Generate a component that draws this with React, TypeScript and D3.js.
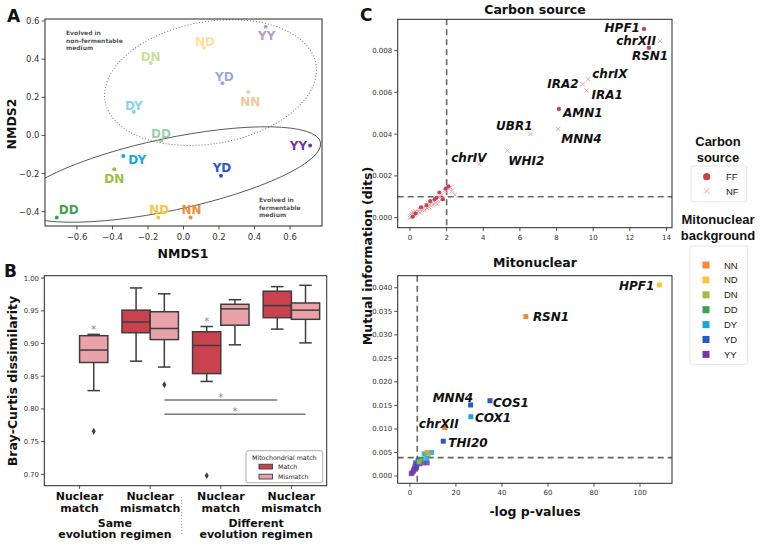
import React from 'react';
import * as d3 from 'd3';

const FONT = "'DejaVu Sans', Verdana, sans-serif";
const LEG_FONT = "'Liberation Sans', Arial, sans-serif";
const INK = '#262626';
const GREY = '#666';

// mitonuclear backgrounds (shared by A and C)
const bgOrder = ['NN', 'ND', 'DN', 'DD', 'DY', 'YD', 'YY'];
const bgColors = ['#f08a3c', '#fbc447', '#9cbf3b', '#3aa34d', '#19a6df', '#2c56c3', '#7637a6'];

// ---- A: NMDS ordination ----
const nmdsLabel = ['DN', 'DY', 'DD', 'ND', 'YY', 'YD', 'NN', 'DY', 'DN', 'DD', 'ND', 'NN', 'YD', 'YY'];
const nmdsX = [-0.185, -0.28, -0.127, 0.115, 0.463, 0.219, 0.365, -0.339, -0.39, -0.714, -0.142, 0.04, 0.211, 0.713];
const nmdsY = [0.38, 0.124, -0.027, 0.46, 0.57, 0.273, 0.228, -0.108, -0.178, -0.43, -0.43, -0.43, -0.212, -0.053];
const nmdsMedium = ['NF', 'NF', 'NF', 'NF', 'NF', 'NF', 'NF', 'FF', 'FF', 'FF', 'FF', 'FF', 'FF', 'FF'];
const nmdsTicksX = [-0.6, -0.4, -0.2, 0.0, 0.2, 0.4, 0.6];
const nmdsTicksY = [-0.4, -0.2, 0.0, 0.2, 0.4, 0.6];
// label placement: anchor, dx, dy
const nmdsLabelPos: [string, number, number][] = [
  ['middle', 0, -2], ['middle', 0, -2], ['middle', 0, -3], ['middle', 1, -2], ['middle', 1, 13],
  ['middle', 2, -2], ['middle', 2, 14], ['start', 5, 8], ['middle', 0, 14], ['start', 2, -3],
  ['middle', 1, -3], ['middle', 1, -3], ['middle', 1, -4], ['end', -3, 4],
];
// group ellipses (centre in data units)
const ellNF = { cx: 0.152, cy: 0.277, rx: 107, ry: 61, angle: -10 };
const ellFF = { cx: -0.082, cy: -0.205, rx: 155, ry: 36, angle: -12 };

// ---- B: Bray-Curtis boxplots ----
const bGroups = ['g0', 'g1', 'g2', 'g3'];
const bTickTop = ['Nuclear', 'Nuclear', 'Nuclear', 'Nuclear'];
const bTickBot = ['match', 'mismatch', 'match', 'mismatch'];
const boxGroup = [0, 1, 1, 2, 2, 3, 3];
const boxHue = ['Mismatch', 'Match', 'Mismatch', 'Match', 'Mismatch', 'Match', 'Mismatch'];
const boxQ1 = [0.871, 0.9165, 0.906, 0.854, 0.928, 0.9395, 0.937];
const boxMed = [0.890, 0.933, 0.923, 0.897, 0.953, 0.958, 0.951];
const boxQ3 = [0.912, 0.951, 0.9486, 0.918, 0.960, 0.980, 0.962];
const boxLo = [0.828, 0.873, 0.864, 0.842, 0.898, 0.922, 0.901];
const boxHi = [0.914, 0.985, 0.976, 0.926, 0.967, 0.987, 0.989];
const outBox = [0, 2, 3];
const outVal = [0.766, 0.837, 0.698];
const starBox = [0, 3];
const starVal = [0.923, 0.936];
const sigFrom = [2, 2];
const sigTo = [5, 6];
const sigVal = [0.8137, 0.792];
const bTicksY = [0.70, 0.75, 0.80, 0.85, 0.90, 0.95, 1.00];

// ---- C: mutual information vs -log p ----
const nfX = [0.0, 0.05, 0.1, 0.1, 0.15, 0.2, 0.25, 0.3, 0.35, 0.45, 0.5, 0.55, 0.6, 0.7, 0.75, 0.8, 0.9, 0.95, 1.0, 1.05, 1.1, 1.2, 1.25, 1.3, 1.4, 1.45, 1.5, 1.6, 1.7, 1.75, 1.8, 1.9, 2.1, 2.2, 2.3, 2.45];
const nfY = [0.0, 0.00005, 0.0002, 0.0001, 0.0001, 0.00025, 0.00015, 0.0003, 0.0002, 0.0003, 0.0004, 0.00025, 0.00045, 0.0004, 0.0005, 0.00035, 0.0006, 0.00045, 0.0007, 0.0005, 0.0006, 0.00075, 0.0006, 0.0008, 0.0007, 0.0009, 0.00065, 0.001, 0.00085, 0.0011, 0.0009, 0.0013, 0.0014, 0.00145, 0.0013, 0.0011];
const ffX = [0.15, 0.3, 0.6, 0.9, 1.1, 1.35, 1.45, 1.6, 1.8, 1.95, 2.1];
const ffY = [0.00005, 0.0002, 0.0005, 0.0006, 0.0008, 0.00088, 0.00095, 0.0012, 0.00088, 0.0014, 0.0015];
const carbonGene = ['HPF1', 'chrXII', 'RSN1', 'chrIX', 'IRA2', 'IRA1', 'AMN1', 'MNN4', 'UBR1', 'WHI2', 'chrIV'];
const carbonP = [12.77, 13.64, 13.04, 9.73, 9.42, 9.64, 8.13, 8.09, 6.58, 5.31, 3.78];
const carbonMI = [0.00904, 0.00846, 0.00814, 0.00663, 0.00639, 0.00608, 0.00521, 0.00425, 0.00401, 0.00321, 0.00257];
const carbonSrc = ['FF', 'NF', 'FF', 'NF', 'NF', 'NF', 'FF', 'NF', 'NF', 'NF', 'NF'];
const carbonLabelPos: [string, number, number][] = [
  ['end', -4, 3], ['end', -4, 4], ['start', -17, 12], ['start', 4, -1], ['end', -4, 4], ['start', 5, 8],
  ['start', 4, 8], ['start', 3, 14], ['end', 2, -4], ['start', 1, 14], ['start', -28, -2],
];
const carbonTicksX = [0, 2, 4, 6, 8, 10, 12, 14];
const carbonTicksY = [0, 0.002, 0.004, 0.006, 0.008];
const carbonCut = [2, 0.001];

const mitoGene = ['HPF1', 'RSN1', 'MNN4', 'COS1', 'COX1', 'chrXII', 'THI20'];
const mitoP = [108.4, 50.4, 26.4, 34.8, 26.5, 15.2, 14.5];
const mitoMI = [0.0406, 0.0339, 0.0151, 0.016, 0.0126, 0.0103, 0.0074];
const mitoBg = ['ND', 'NN', 'YD', 'YD', 'DY', 'NN', 'YD'];
const mitoLabelPos: [string, number, number][] = [
  ['end', -5, 5], ['start', 7, 5], ['start', -38, -3], ['start', 3, 6], ['start', 4, 5], ['start', -26, 0], ['start', 5, 6],
];
const mitoRestX = [1.0, 0.6, 1.7, 2.2, 2.9, 4.3, 5.8, 7.5, 1.5, 2.0, 2.5, 3.6, 3.0, 6.2, 9.4, 7.5, 8.0, 7.3, 5.0, 4.0];
const mitoRestY = [0.0007, 0.0005, 0.0013, 0.0021, 0.0018, 0.0026, 0.0028, 0.0028, 0.001, 0.0016, 0.0028, 0.0034, 0.0024, 0.0047, 0.005, 0.005, 0.0045, 0.0037, 0.0035, 0.003];
const mitoRestBg = ['YY', 'YY', 'YY', 'YY', 'YY', 'YY', 'YY', 'YY', 'YY', 'YY', 'YD', 'YD', 'YD', 'DY', 'DY', 'NN', 'DN', 'DY', 'DD', 'DN'];
const mitoTicksX = [0, 20, 40, 60, 80, 100];
const mitoTicksY = [0, 0.005, 0.01, 0.015, 0.02, 0.025, 0.03, 0.035, 0.04];
const mitoCut = [3.2, 0.0039];

const bgColor = d3.scaleOrdinal<string, string>().domain(bgOrder).range(bgColors);
const minus = (s: string) => s.replace('-', '\u2212');

function AxisLeft({ scale, ticks, x, fmt, size }: any) {
  return (
    <g>
      {ticks.map((t: number) => (
        <g key={t} transform={`translate(${x},${scale(t)})`}>
          <line x2={-3.5} stroke={INK} strokeWidth={0.8} />
          <text x={-5.5} dy="0.35em" textAnchor="end" fontSize={size} fill="#333">{fmt(t)}</text>
        </g>
      ))}
    </g>
  );
}

function AxisBottom({ scale, ticks, y, fmt, size }: any) {
  return (
    <g>
      {ticks.map((t: number) => (
        <g key={t} transform={`translate(${scale(t)},${y})`}>
          <line y2={3.5} stroke={INK} strokeWidth={0.8} />
          <text y={5 + size} textAnchor="middle" fontSize={size} fill="#333">{fmt(t)}</text>
        </g>
      ))}
    </g>
  );
}

function Frame({ x0, x1, y0, y1 }: any) {
  return <rect x={x0} y={y0} width={x1 - x0} height={y1 - y0} fill="none" stroke={INK} strokeWidth={1} />;
}

function PanelA() {
  const x = d3.scaleLinear().domain([-0.78, 0.78]).range([45, 322]);
  const y = d3.scaleLinear().domain([-0.475, 0.6105]).range([226, 19]);
  const fmt = (v: number) => minus(d3.format('.1f')(v));
  const ell = (e: any, dash?: string) => (
    <ellipse cx={0} cy={0} rx={e.rx} ry={e.ry} fill="none" stroke={dash ? '#777' : '#555'} strokeWidth={dash ? 1 : 0.9}
      strokeDasharray={dash} transform={`translate(${x(e.cx)},${y(e.cy)}) rotate(${e.angle})`} />
  );
  return (
    <g>
      <defs>
        <clipPath id="clipA"><rect x={45} y={19} width={277} height={207} /></clipPath>
      </defs>
      <g clipPath="url(#clipA)">
        {ell(ellNF, '1,2')}
        {ell(ellFF)}
      </g>
      {nmdsLabel.map((lab, i) => {
        const [anchor, dx, dy] = nmdsLabelPos[i];
        const faded = nmdsMedium[i] === 'NF';
        const col = bgColor(lab);
        return (
          <g key={i} opacity={faded ? 0.5 : 1}>
            <circle cx={x(nmdsX[i])} cy={y(nmdsY[i])} r={2} fill={col} />
            <text x={x(nmdsX[i]) + dx} y={y(nmdsY[i]) + dy} textAnchor={anchor} fontSize={12} fontWeight="bold" fill={col}>{lab}</text>
          </g>
        );
      })}
      <g fontSize={6} fontWeight="bold" fill="#555">
        <text x={66} y={35}>Evolved in</text>
        <text x={66} y={42.5}>non-fermentable</text>
        <text x={66} y={50}>medium</text>
        <text x={259} y={202}>Evolved in</text>
        <text x={259} y={209.5}>fermentable</text>
        <text x={259} y={217}>medium</text>
      </g>
      <Frame x0={45} x1={322} y0={19} y1={226} />
      <AxisLeft scale={y} ticks={nmdsTicksY} x={45} fmt={fmt} size={8.5} />
      <AxisBottom scale={x} ticks={nmdsTicksX} y={226} fmt={fmt} size={8.5} />
      <text x={183} y={258} textAnchor="middle" fontSize={12.5} fontWeight="bold" fill="#111">NMDS1</text>
      <text transform="translate(16,124) rotate(-90)" textAnchor="middle" fontSize={12.5} fontWeight="bold" fill="#111">NMDS2</text>
      <text x={7} y={22} fontSize={17} fontWeight="bold" fill="#111">A</text>
    </g>
  );
}

function PanelB() {
  const x = d3.scaleBand().domain(bGroups).range([44.3, 326.7]).padding(0);
  const y = d3.scaleLinear().domain([0.6826, 1.0037]).range([485.7, 275.7]);
  const hw = x.bandwidth() * 0.4;
  const boxX = (i: number) => (x(bGroups[boxGroup[i]]) as number) + x.bandwidth() / 2 + (boxHue[i] === 'Match' ? -hw : 0);
  const boxC = (i: number) => boxX(i) + hw / 2;
  const fill = (h: string) => (h === 'Match' ? '#c9424e' : '#e9a2aa');
  const cap = hw * 0.22;
  const stroke = '#3d3d3d';
  const diamond = d3.symbol().type(d3.symbolDiamond).size(14)();
  return (
    <g>
      {boxGroup.map((g, i) => (
        <g key={i} stroke={stroke} strokeWidth={1.5}>
          <line x1={boxC(i)} x2={boxC(i)} y1={y(boxHi[i])} y2={y(boxQ3[i])} />
          <line x1={boxC(i)} x2={boxC(i)} y1={y(boxQ1[i])} y2={y(boxLo[i])} />
          <line x1={boxC(i) - cap} x2={boxC(i) + cap} y1={y(boxHi[i])} y2={y(boxHi[i])} />
          <line x1={boxC(i) - cap} x2={boxC(i) + cap} y1={y(boxLo[i])} y2={y(boxLo[i])} />
          <rect x={boxX(i)} width={hw} y={y(boxQ3[i])} height={y(boxQ1[i]) - y(boxQ3[i])} fill={fill(boxHue[i])} />
          <line x1={boxX(i)} x2={boxX(i) + hw} y1={y(boxMed[i])} y2={y(boxMed[i])} />
        </g>
      ))}
      {outBox.map((b, i) => (
        <path key={i} d={diamond as string} transform={`translate(${boxC(b)},${y(outVal[i])})`} fill={stroke} />
      ))}
      {starBox.map((b, i) => (
        <text key={i} x={boxC(b)} y={y(starVal[i]) + 5} textAnchor="middle" fontSize={10} fill="#888">*</text>
      ))}
      {sigFrom.map((f, i) => (
        <g key={i}>
          <line x1={boxC(f)} x2={boxC(sigTo[i])} y1={y(sigVal[i])} y2={y(sigVal[i])} stroke="#777" strokeWidth={1.5} />
          <text x={(boxC(f) + boxC(sigTo[i])) / 2} y={y(sigVal[i]) + 1} textAnchor="middle" fontSize={10} fill="#888">*</text>
        </g>
      ))}
      <g>
        <rect x={246} y={450.7} width={76.7} height={32} rx={2} fill="#fff" stroke="#999" strokeWidth={0.8} />
        <text x={284.3} y={459.5} textAnchor="middle" fontSize={6.3} fill="#222">Mitochondrial match</text>
        {['Match', 'Mismatch'].map((h, i) => (
          <g key={h}>
            <rect x={259} y={464.2 + i * 10} width={13.5} height={4.8} fill={fill(h)} stroke={stroke} strokeWidth={0.9} />
            <text x={278} y={469 + i * 10} fontSize={6.3} fill="#222">{h}</text>
          </g>
        ))}
      </g>
      <Frame x0={44.3} x1={326.7} y0={275.7} y1={485.7} />
      <AxisLeft scale={y} ticks={bTicksY} x={44.3} fmt={d3.format('.2f')} size={6.8} />
      {bGroups.map((g, i) => {
        const cx = (x(g) as number) + x.bandwidth() / 2;
        return (
          <g key={g}>
            <line x1={cx} x2={cx} y1={485.7} y2={489} stroke={INK} strokeWidth={0.8} />
            <text x={cx} y={500} textAnchor="middle" fontSize={11} fontWeight="bold" fill="#111">{bTickTop[i]}</text>
            <text x={cx} y={512} textAnchor="middle" fontSize={11} fontWeight="bold" fill="#111">{bTickBot[i]}</text>
          </g>
        );
      })}
      {[0, 2].map((k, i) => {
        const cx = ((x(bGroups[k]) as number) + (x(bGroups[k + 1]) as number)) / 2 + x.bandwidth() / 2;
        return (
          <g key={k}>
            <text x={cx} y={526.5} textAnchor="middle" fontSize={11} fontWeight="bold" fill="#111">{i === 0 ? 'Same' : 'Different'}</text>
            <text x={cx} y={538} textAnchor="middle" fontSize={11} fontWeight="bold" fill="#111">evolution regimen</text>
          </g>
        );
      })}
      <line x1={181.7} x2={181.7} y1={497} y2={536} stroke="#888" strokeWidth={0.8} strokeDasharray="1,2" />
      <text transform="translate(17,381) rotate(-90)" textAnchor="middle" fontSize={12.5} fontWeight="bold" fill="#111">Bray-Curtis dissimilarity</text>
      <text x={4} y={277} fontSize={17} fontWeight="bold" fill="#111">B</text>
    </g>
  );
}

function GeneLabels({ x, y, genes, px, py, pos }: any) {
  return (
    <g fontSize={12} fontWeight="bold" fontStyle="italic" fill="#111">
      {genes.map((g: string, i: number) => {
        const [anchor, dx, dy] = pos[i];
        return <text key={g} x={x(px[i]) + dx} y={y(py[i]) + dy} textAnchor={anchor}>{g}</text>;
      })}
    </g>
  );
}

function PanelC() {
  const x1 = d3.scaleLinear().domain([-0.67, 14.3]).range([397.7, 672]);
  const y1 = d3.scaleLinear().domain([-0.00048, 0.0095]).range([227.7, 19.3]);
  const x2 = d3.scaleLinear().domain([-5.3, 113.9]).range([397.7, 672]);
  const y2 = d3.scaleLinear().domain([-0.00155, 0.04257]).range([483.3, 275.7]);
  const ffCol = '#c4434f';
  const nfCol = '#eaa7b0';
  const cross = (cx: number, cy: number, k: any, s = 2.2) => (
    <path key={k} d={`M${cx - s},${cy - s}L${cx + s},${cy + s}M${cx - s},${cy + s}L${cx + s},${cy - s}`} stroke={nfCol} strokeWidth={1} />
  );
  const sq = 5;
  const dash = { stroke: GREY, strokeWidth: 1.6, strokeDasharray: '6,4' };
  return (
    <g>
      {/* carbon source */}
      <line x1={x1(carbonCut[0])} x2={x1(carbonCut[0])} y1={19.3} y2={227.7} {...dash} />
      <line x1={397.7} x2={672} y1={y1(carbonCut[1])} y2={y1(carbonCut[1])} {...dash} />
      {nfX.map((v, i) => cross(x1(v), y1(nfY[i]), 'n' + i))}
      {ffX.map((v, i) => <circle key={'f' + i} cx={x1(v)} cy={y1(ffY[i])} r={2} fill={ffCol} />)}
      {carbonGene.map((g, i) =>
        carbonSrc[i] === 'FF'
          ? <circle key={g} cx={x1(carbonP[i])} cy={y1(carbonMI[i])} r={2.2} fill={ffCol} />
          : cross(x1(carbonP[i]), y1(carbonMI[i]), g)
      )}
      <GeneLabels x={x1} y={y1} genes={carbonGene} px={carbonP} py={carbonMI} pos={carbonLabelPos} />
      <Frame x0={397.7} x1={672} y0={19.3} y1={227.7} />
      <AxisLeft scale={y1} ticks={carbonTicksY} x={397.7} fmt={d3.format('.3f')} size={7} />
      <AxisBottom scale={x1} ticks={carbonTicksX} y={227.7} fmt={d3.format('d')} size={7} />
      <text x={535} y={14} textAnchor="middle" fontSize={12.5} fontWeight="bold" fill="#111">Carbon source</text>

      {/* mitonuclear */}
      <line x1={x2(mitoCut[0])} x2={x2(mitoCut[0])} y1={275.7} y2={483.3} {...dash} />
      <line x1={397.7} x2={672} y1={y2(mitoCut[1])} y2={y2(mitoCut[1])} {...dash} />
      {mitoRestX.map((v, i) => (
        <rect key={'r' + i} x={x2(v) - sq / 2} y={y2(mitoRestY[i]) - sq / 2} width={sq} height={sq} fill={bgColor(mitoRestBg[i])} opacity={0.85} />
      ))}
      {mitoGene.map((g, i) => (
        <rect key={g} x={x2(mitoP[i]) - sq / 2} y={y2(mitoMI[i]) - sq / 2} width={sq} height={sq} fill={bgColor(mitoBg[i])} />
      ))}
      <GeneLabels x={x2} y={y2} genes={mitoGene} px={mitoP} py={mitoMI} pos={mitoLabelPos} />
      <Frame x0={397.7} x1={672} y0={275.7} y1={483.3} />
      <AxisLeft scale={y2} ticks={mitoTicksY} x={397.7} fmt={d3.format('.3f')} size={7} />
      <AxisBottom scale={x2} ticks={mitoTicksX} y={483.3} fmt={d3.format('d')} size={7} />
      <text x={535} y={267} textAnchor="middle" fontSize={12.5} fontWeight="bold" fill="#111">Mitonuclear</text>
      <text x={535} y={516} textAnchor="middle" fontSize={12.5} fontWeight="bold" fill="#111">-log p-values</text>

      <text transform="translate(372,256) rotate(-90)" textAnchor="middle" fontSize={12.5} fontWeight="bold" fill="#111">Mutual information (dits)</text>
      <text x={360} y={21} fontSize={17} fontWeight="bold" fill="#111">C</text>

      {/* legends */}
      <g fontFamily={LEG_FONT}>
        <text x={718} y={146} textAnchor="middle" fontSize={13} fontWeight="bold" fill="#111">Carbon</text>
        <text x={718} y={162} textAnchor="middle" fontSize={13} fontWeight="bold" fill="#111">source</text>
        <rect x={691} y={166} width={55.7} height={35.7} rx={2} fill="#fff" stroke="#ddd" strokeWidth={0.8} />
        <circle cx={706.7} cy={176.7} r={3.6} fill={ffCol} />
        <text x={726} y={180.2} fontSize={9.5} fill="#222">FF</text>
        {cross(706.7, 191, 'leg', 2.8)}
        <text x={726} y={194.5} fontSize={9.5} fill="#222">NF</text>

        <text x={718} y={224} textAnchor="middle" fontSize={13} fontWeight="bold" fill="#111">Mitonuclear</text>
        <text x={718} y={240} textAnchor="middle" fontSize={13} fontWeight="bold" fill="#111">background</text>
        <rect x={690} y={246} width={57.7} height={118.3} rx={2} fill="#fff" stroke="#ddd" strokeWidth={0.8} />
        {bgOrder.map((b, i) => (
          <g key={b}>
            <rect x={702.5} y={261.5 + i * 14.9} width={7} height={7} fill={bgColors[i]} />
            <text x={724} y={268.5 + i * 14.9} fontSize={9.5} fill="#222">{b}</text>
          </g>
        ))}
      </g>
    </g>
  );
}

export default function App() {
  return (
    <svg width={760} height={544} style={{ position: 'absolute', left: 0, top: 0, background: '#fff' }} fontFamily={FONT}>
      <rect width={760} height={544} fill="#fff" />
      <PanelA />
      <PanelB />
      <PanelC />
    </svg>
  );
}
